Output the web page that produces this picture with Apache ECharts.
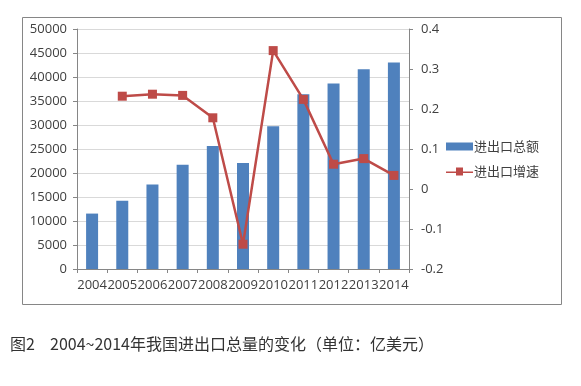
<!DOCTYPE html>
<html>
<head>
<meta charset="utf-8">
<script src="https://cdn.jsdelivr.net/npm/echarts@6/dist/echarts.min.js"></script>
<style>
html,body{margin:0;padding:0;background:#fff;}
#chart{width:581px;height:386px;}
</style>
</head>
<body>
<div id="chart"></div>
<script>
var categories = ['2004','2005','2006','2007','2008','2009','2010','2011','2012','2013','2014'];
var totalValues = [11546, 14219, 17604, 21737, 25633, 22075, 29740, 36419, 38671, 41600, 43030];
var growthValues = [null, 0.232, 0.237, 0.234, 0.178, -0.138, 0.346, 0.224, 0.062, 0.076, 0.034];
var leftTicks = {min: 0, max: 50000, interval: 5000};
var rightTicks = {min: -0.2, max: 0.4, interval: 0.1};
var seriesNames = ['进出口总额', '进出口增速'];
var captionPrefix = '图2';
var captionText = '2004~2014年我国进出口总量的变化（单位：亿美元）';

var chart = echarts.init(document.getElementById('chart'), null, {renderer: 'canvas'});
var labelFont = {color: '#404040', fontSize: 13, fontFamily: 'Open Sans'};
chart.setOption({
  animation: false,
  backgroundColor: '#fff',
  grid: {left: 77, right: 172, top: 29, bottom: 117, containLabel: false},
  legend: {
    orient: 'vertical', left: 446, top: 140, itemGap: 12, padding: 0,
    itemWidth: 27, itemHeight: 8,
    textStyle: {color: '#404040', fontSize: 13, fontFamily: 'Noto Sans CJK SC', padding: [0,0,0,-4]},
    data: [{name: seriesNames[0], icon: 'rect'}, {name: seriesNames[1], icon: 'path://M0,4 L10,4 L10,0 L17,0 L17,4 L27,4 L27,5.5 L17,5.5 L17,8 L10,8 L10,5.5 L0,5.5 Z'}]
  },
  xAxis: {
    type: 'category', data: categories, boundaryGap: true,
    axisLine: {lineStyle: {color: '#868686'}},
    axisTick: {show: true, length: 4, alignWithLabel: false, lineStyle: {color: '#868686'}},
    axisLabel: Object.assign({margin: 10, interval: 0}, labelFont)
  },
  yAxis: [{
    type: 'value', min: leftTicks.min, max: leftTicks.max, interval: leftTicks.interval,
    axisLine: {show: true, lineStyle: {color: '#868686'}},
    axisTick: {show: true, length: 4, lineStyle: {color: '#868686'}},
    splitLine: {show: true, lineStyle: {color: '#d9d9d9'}},
    axisLabel: Object.assign({margin: 10, formatter: function (v) { return String(v); }}, labelFont)
  }, {
    type: 'value', position: 'right', min: rightTicks.min, max: rightTicks.max, interval: rightTicks.interval,
    axisLine: {show: true, lineStyle: {color: '#868686'}},
    axisTick: {show: true, length: 4, lineStyle: {color: '#868686'}},
    splitLine: {show: false},
    axisLabel: Object.assign({margin: 12, formatter: function (v) { return String(+v.toFixed(1)); }}, labelFont)
  }],
  series: [{
    name: seriesNames[0], type: 'bar', data: totalValues, yAxisIndex: 0,
    barWidth: 12, itemStyle: {color: '#4F81BD'}
  }, {
    name: seriesNames[1], type: 'line', data: growthValues, yAxisIndex: 1,
    symbol: 'rect', symbolSize: 9, connectNulls: false,
    lineStyle: {color: '#BE4B48', width: 2.5}, itemStyle: {color: '#BE4B48'}
  }],
  graphic: [{
    type: 'rect', left: 20, top: 15, silent: true,
    shape: {width: 539, height: 287},
    style: {fill: 'none', stroke: '#868686', lineWidth: 1}
  }, {
    type: 'text', left: 10, top: 336,
    style: {text: captionPrefix, fill: '#333', font: '16px "Noto Sans CJK SC"'}
  }, {
    type: 'text', left: 50, top: 336,
    style: {text: captionText, fill: '#333', font: '16px "Noto Sans CJK SC"'}
  }]
});
</script>
</body>
</html>
